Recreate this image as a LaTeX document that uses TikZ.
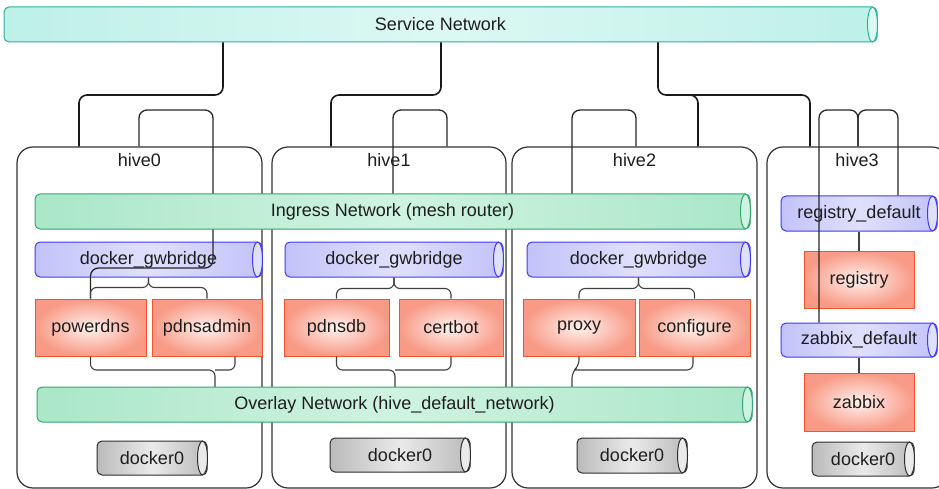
\documentclass[tikz,border=0pt]{standalone}
\usepackage{fontspec}
\setmainfont{Liberation Sans}
\definecolor{txt}{HTML}{1E1E1E}
\definecolor{snB}{HTML}{2AB09E}
\definecolor{snE}{HTML}{9DE9DD}
\definecolor{snM}{HTML}{DDF8F3}
\definecolor{grB}{HTML}{2EA86C}
\definecolor{grE}{HTML}{86DAB0}
\definecolor{grM}{HTML}{CFF3E1}
\definecolor{blB}{HTML}{3B3BFF}
\definecolor{blE}{HTML}{A4A4F6}
\definecolor{blM}{HTML}{E0E0FC}
\definecolor{pkB}{HTML}{F25528}
\definecolor{pkE}{HTML}{F89A86}
\definecolor{pkM}{HTML}{FFF2EE}
\definecolor{gyB}{HTML}{2E2E2E}
\definecolor{gyE}{HTML}{8A8A8A}
\definecolor{gyM}{HTML}{EAEAEA}
\pgfdeclarehorizontalshading{shSN}{100bp}{color(0bp)=(snE); color(50bp)=(snM); color(100bp)=(snE)}
\pgfdeclarehorizontalshading{shGR}{100bp}{color(0bp)=(grE); color(50bp)=(grM); color(100bp)=(grE)}
\pgfdeclarehorizontalshading{shBL}{100bp}{color(0bp)=(blE); color(50bp)=(blM); color(100bp)=(blE)}
\pgfdeclarehorizontalshading{shGY}{100bp}{color(0bp)=(gyE); color(50bp)=(gyM); color(100bp)=(gyE)}
\newcommand\cylcap[4]{\draw[line width=1pt,draw=#2,fill=#3] ([xshift=-5pt]#1.east) ellipse [x radius=5pt, y radius=#4];}
\begin{document}
\begin{tikzpicture}[x=1pt,y=-1pt,
  every node/.style={font=\fontsize{18}{20}\selectfont, text=txt},
  hive/.style={draw=black!80, line width=1.2pt, fill=white, rounded corners=16pt, inner sep=0},
  cyl/.style={rectangle, rounded corners=5pt, inner sep=0, line width=1pt, shade},
  snc/.style={cyl, draw=snB, shading=shSN},
  grc/.style={cyl, draw=grB, shading=shGR},
  blc/.style={cyl, draw=blB, shading=shBL},
  gyc/.style={cyl, draw=gyB, shading=shGY},
  svc/.style={rectangle, inner sep=0, line width=1pt, draw=pkB, inner color=pkM, outer color=pkE, minimum height=57pt},
  snl/.style={draw=black!90, line width=1.6pt, rounded corners=8pt},
  lp/.style={draw=black!85, line width=1.3pt, rounded corners=8pt},
  br/.style={draw=black!75, line width=1.1pt, rounded corners=6pt},
  lbl/.style={inner sep=0}]
\useasboundingbox (0,0) rectangle (939,489);

% hives
\node[hive, minimum width=245pt, minimum height=341pt] (h0) at (139.5,317.5) {};
\node[hive, minimum width=234pt, minimum height=341pt] (h1) at (389,317.5) {};
\node[hive, minimum width=245pt, minimum height=341pt] (h2) at (634.5,317.5) {};
\node[hive, minimum width=181pt, minimum height=341pt] (h3) at (857.5,317.5) {};
\node[lbl] (h0l) at (139.5,160) {hive0};
\node[lbl] (h1l) at (389,160) {hive1};
\node[lbl] (h2l) at (634.5,160) {hive2};
\node[lbl] (h3l) at (857,160) {hive3};

% service network
\node[snc, minimum width=873pt, minimum height=35pt] (sn) at (440.5,24.5) {Service Network};
\cylcap{sn}{snB}{snM}{17.5pt}

% gwbridges
\node[blc, minimum width=227pt, minimum height=35pt] (gw0) at (148.5,259.5) {docker\_gwbridge};
\cylcap{gw0}{blB}{blM}{17.5pt}
\node[blc, minimum width=218pt, minimum height=35pt] (gw1) at (394,259.5) {docker\_gwbridge};
\cylcap{gw1}{blB}{blM}{17.5pt}
\node[blc, minimum width=223pt, minimum height=35pt] (gw2) at (638.5,259.5) {docker\_gwbridge};
\cylcap{gw2}{blB}{blM}{17.5pt}
\node[blc, minimum width=156pt, minimum height=35pt] (rd) at (859,213.5) {registry\_default};
\cylcap{rd}{blB}{blM}{17.5pt}
\node[blc, minimum width=156pt, minimum height=34pt] (zd) at (859,340) {zabbix\_default};
\cylcap{zd}{blB}{blM}{17pt}

% services
\node[svc, minimum width=111pt] (powerdns) at (90.5,327.5) {powerdns};
\node[svc, minimum width=110pt] (pdnsadmin) at (207,327.5) {pdnsadmin};
\node[svc, minimum width=105pt] (pdnsdb) at (336.5,327.5) {pdnsdb};
\node[svc, minimum width=104pt] (certbot) at (451,327.5) {certbot};
\node[svc, minimum width=112pt] (proxy) at (579,327.5) {proxy};
\node[svc, minimum width=111pt] (configure) at (694.5,327.5) {configure};
\node[svc, minimum width=110pt] (registry) at (859,279.5) {registry};
\node[svc, minimum width=110pt, minimum height=58pt] (zabbix) at (859,402) {zabbix};

% docker0
\node[gyc, minimum width=110pt, minimum height=34pt] (d0) at (152,458) {docker0\hspace{4pt}};
\cylcap{d0}{gyB}{gyM}{17pt}
\node[gyc, minimum width=140pt, minimum height=34pt] (d1) at (400,455) {docker0\hspace{4pt}};
\cylcap{d1}{gyB}{gyM}{17pt}
\node[gyc, minimum width=110pt, minimum height=35pt] (d2) at (632,455.5) {docker0\hspace{4pt}};
\cylcap{d2}{gyB}{gyM}{17.5pt}
\node[gyc, minimum width=102pt, minimum height=34pt] (d3) at (863,459) {docker0\hspace{4pt}};
\cylcap{d3}{gyB}{gyM}{17pt}

% service network links
\draw[snl] (223,0 |- sn.south) -- (223,95) -- (79,95) -- (79,0 |- h0.north);
\draw[snl] (441,0 |- sn.south) -- (441,95) -- (331,95) -- (331,0 |- h1.north);
\draw[snl] (658,0 |- sn.south) -- (658,95) -- (698,95) -- (698,0 |- h2.north);
\coordinate (j3) at (680,95);
\draw[snl] (j3) -- (810,95) -- (810,0 |- h3.north);

% hive loops
\draw[lp] (139,0 |- h0.north) -- (139,110) -- (213,110) -- (213,268) -- (90.5,268) -- (powerdns.north);
\draw[lp] (447,0 |- h1.north) -- (447,110) -- (393,110) -- (393,194);
\draw[lp] (636,0 |- h2.north) -- (636,110) -- (572,110) -- (572,194);
\draw[lp] (858,0 |- h3.north) -- (858,110) -- (819,110) -- (819,0 |- zd.north);
\draw[lp] (858,0 |- h3.north) -- (858,110) -- (898,110) -- (898,0 |- rd.north);

% braces
\draw[br] (gw0.south) -- ++(0,10) -| (powerdns.north);
\draw[br] (gw0.south) -- ++(0,10) -| (pdnsadmin.north);
\draw[br] (powerdns.south) |- (215,370) -- (215,387);
\draw[br] (235,0 |- pdnsadmin.south) |- (215,370);
\draw[br] (gw1.south) -- ++(0,11) -| (pdnsdb.north);
\draw[br] (gw1.south) -- ++(0,11) -| (certbot.north);
\draw[br] (pdnsdb.south) |- (395,370) -- (395,387);
\draw[br] (certbot.south) |- (395,370);
\draw[br] (gw2.south) -- ++(0,11) -| (proxy.north);
\draw[br] (gw2.south) -- ++(0,11) -| (configure.north);
\draw[br] (proxy.south) -- (579,366) -- (572,372) -- (572,387);
\draw[br] (693,0 |- configure.south) |- (575,370);
\draw[br] (rd.south) -- (registry.north);
\draw[br] (zd.south) -- (zabbix.north);

% ingress & overlay on top
\node[grc, minimum width=715pt, minimum height=35pt] (ing) at (392.5,211.5) {Ingress Network (mesh router)};
\cylcap{ing}{grB}{grM}{17.5pt}
\node[grc, minimum width=715pt, minimum height=35pt] (ov) at (394.5,404.5) {Overlay Network (hive\_default\_network)};
\cylcap{ov}{grB}{grM}{17.5pt}
\end{tikzpicture}
\end{document}
